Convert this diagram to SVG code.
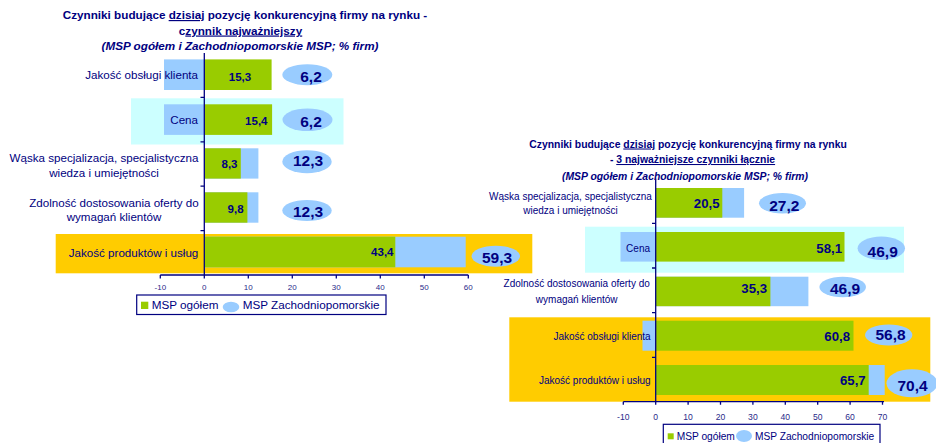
<svg xmlns="http://www.w3.org/2000/svg" width="936" height="443" viewBox="0 0 936 443">
<style>
text{font-family:"Liberation Sans",Arial,sans-serif;fill:#000080}
.t1{font-size:11.7px;font-weight:bold;text-anchor:middle}
.t2{font-size:10.4px;font-weight:bold;text-anchor:middle}
.it{font-style:italic}
.u{text-decoration:underline}
.lab{font-size:11.6px}
.labr{font-size:10px}
.end{text-anchor:end}
.mid{text-anchor:middle}
.val{font-size:11.5px;font-weight:bold}
.valr{font-size:13.2px;font-weight:bold;text-anchor:end}
.big{font-size:15.5px;font-weight:bold;text-anchor:middle}
.tick{font-size:8px;text-anchor:middle;fill:#2a2a8a}
.tickr{font-size:8.6px;text-anchor:middle;fill:#2a2a8a}
.g{fill:#99CC00}
.b{fill:#99CCFF}
.cy{fill:#CCFFFF}
.or{fill:#FFCC00}
.ax{stroke:#000080;stroke-width:1.3;fill:none}
.leg{fill:#fff;stroke:#000080;stroke-width:1.2}
.lt{font-size:11.7px}
.ltr{font-size:10.2px}
</style>

<!-- LEFT CHART -->
<g id="left-title">
<text class="t1" x="245" y="19">Czynniki budujące <tspan class="u">dzisiaj</tspan> pozycję konkurencyjną firmy na rynku -</text>
<text class="t1" x="240.5" y="34.5">c<tspan class="u">zynnik najważniejszy</tspan></text>
<text class="t1 it" x="240" y="49.5">(MSP ogółem i Zachodniopomorskie MSP; % firm)</text>
</g>

<g id="left-bands">
<rect class="cy" x="131" y="98.3" width="212.5" height="46.2"/>
<rect class="or" x="55.7" y="234" width="476.6" height="39.3"/>
</g>

<g id="L-obsluga">
<rect class="b" x="164" y="59.4" width="40.3" height="30.6"/>
<rect class="g" x="204.3" y="59.4" width="67.3" height="30.6"/>
<text class="lab end" x="198" y="78.5">Jakość obsługi klienta</text>
<text class="val mid" x="240" y="80.7">15,3</text>
<ellipse class="b" cx="307.3" cy="74.7" rx="25" ry="10.5"/>
<text class="big" x="311" y="82">6,2</text>
</g>

<g id="L-cena">
<rect class="b" x="164" y="104.3" width="40.3" height="30.6"/>
<rect class="g" x="204.3" y="104.3" width="67.8" height="30.6"/>
<text class="lab end" x="198" y="124">Cena</text>
<text class="val mid" x="256.3" y="124.5">15,4</text>
<ellipse class="b" cx="307.5" cy="119.7" rx="25" ry="11.3"/>
<text class="big" x="311" y="126.5">6,2</text>
</g>

<g id="L-waska">
<rect class="b" x="204.3" y="148.3" width="54.1" height="30.3"/>
<rect class="g" x="204.3" y="148.3" width="36.5" height="30.3"/>
<text class="lab mid" x="104" y="161.8">Wąska specjalizacja, specjalistyczna</text>
<text class="lab mid" x="104" y="176.8">wiedza i umiejętności</text>
<text class="val mid" x="229.5" y="168.3">8,3</text>
<ellipse class="b" cx="307" cy="161.7" rx="24.7" ry="11.5"/>
<text class="big" x="308" y="166.3">12,3</text>
</g>

<g id="L-zdolnosc">
<rect class="b" x="204.3" y="192.3" width="54.1" height="30.4"/>
<rect class="g" x="204.3" y="192.3" width="43.1" height="30.4"/>
<text class="lab mid" x="114" y="206.5">Zdolność dostosowania oferty do</text>
<text class="lab mid" x="114" y="221">wymagań klientów</text>
<text class="val mid" x="235.6" y="213.3">9,8</text>
<ellipse class="b" cx="307" cy="210.5" rx="24.7" ry="10.5"/>
<text class="big" x="308" y="217.3">12,3</text>
</g>

<g id="L-produkty">
<rect class="b" x="204.3" y="236.7" width="261.4" height="30.6"/>
<rect class="g" x="204.3" y="236.7" width="191" height="30.6"/>
<text class="lab end" x="198.3" y="257.3">Jakość produktów i usług</text>
<text class="val end" x="393.5" y="256.3">43,4</text>
<ellipse class="b" cx="495.8" cy="256.2" rx="24.2" ry="10.5"/>
<text class="big" x="497" y="262.7">59,3</text>
</g>

<g id="left-axes">
<path class="ax" d="M204.3 53V275M160.3 275H468.3"/>
<path class="ax" d="M200.5 97.4H204.3M200.5 141.8H204.3M200.5 186.2H204.3M200.5 230.6H204.3"/>
<path class="ax" d="M160.3 275v3.5M204.3 275v3.5M248.3 275v3.5M292.3 275v3.5M336.3 275v3.5M380.3 275v3.5M424.3 275v3.5M468.3 275v3.5"/>
<text class="tick" x="160.3" y="289.5">-10</text>
<text class="tick" x="204.3" y="289.5">0</text>
<text class="tick" x="248.3" y="289.5">10</text>
<text class="tick" x="292.3" y="289.5">20</text>
<text class="tick" x="336.3" y="289.5">30</text>
<text class="tick" x="380.3" y="289.5">40</text>
<text class="tick" x="424.3" y="289.5">50</text>
<text class="tick" x="468.3" y="289.5">60</text>
</g>

<g id="left-legend">
<rect class="leg" x="136.7" y="295" width="249.3" height="19.5"/>
<rect class="g" x="141" y="301.7" width="7.3" height="7.3"/>
<text class="lt" x="151.7" y="309">MSP ogółem</text>
<ellipse class="b" cx="231" cy="307" rx="8.3" ry="5.3"/>
<text class="lt" x="242.7" y="309">MSP Zachodniopomorskie</text>
</g>

<!-- RIGHT CHART -->
<g id="right-title">
<text class="t2" x="688" y="147.5">Czynniki budujące <tspan class="u"> dzisiaj</tspan> pozycję konkurencyjną firmy na rynku</text>
<text class="t2" x="692.5" y="163">- <tspan class="u">3 najważniejsze czynniki łącznie</tspan></text>
<text class="t2 it" x="685" y="180">(MSP ogółem i Zachodniopomorskie MSP; % firm)</text>
</g>

<g id="right-bands">
<rect class="cy" x="585" y="226.7" width="319" height="46"/>
<rect class="or" x="509.3" y="317.3" width="421" height="84.4"/>
</g>

<g id="R-waska">
<rect class="b" x="655.7" y="188" width="88.4" height="29.7"/>
<rect class="g" x="655.7" y="188" width="66.6" height="29.7"/>
<text class="labr mid" x="570.5" y="200">Wąska specjalizacja, specjalistyczna</text>
<text class="labr mid" x="570.5" y="214.3">wiedza i umiejętności</text>
<text class="valr" x="719.5" y="207.7">20,5</text>
<ellipse class="b" cx="782.5" cy="203.3" rx="23.5" ry="10.3"/>
<text class="big" x="784.3" y="210.5">27,2</text>
</g>

<g id="R-cena">
<rect class="b" x="620.5" y="232" width="35.2" height="29.6"/>
<rect class="g" x="655.7" y="232" width="188.8" height="29.6"/>
<text class="labr end" x="650" y="252">Cena</text>
<text class="valr" x="842" y="253">58,1</text>
<ellipse class="b" cx="881.3" cy="248.3" rx="23.7" ry="11.7"/>
<text class="big" x="882.7" y="256.5">46,9</text>
</g>

<g id="R-zdolnosc">
<rect class="b" x="655.7" y="276.7" width="152.7" height="29.5"/>
<rect class="g" x="655.7" y="276.7" width="114.7" height="29.5"/>
<text class="labr mid" x="576.7" y="287.3">Zdolność dostosowania oferty do</text>
<text class="labr mid" x="576.7" y="303">wymagań klientów</text>
<text class="valr" x="767" y="293">35,3</text>
<ellipse class="b" cx="842.7" cy="287" rx="23.3" ry="10.3"/>
<text class="big" x="845" y="294">46,9</text>
</g>

<g id="R-obsluga">
<rect class="b" x="642.5" y="320.7" width="13.2" height="30"/>
<rect class="g" x="655.7" y="320.7" width="197.8" height="30"/>
<text class="labr end" x="650.7" y="340">Jakość obsługi klienta</text>
<text class="valr" x="850" y="341">60,8</text>
<ellipse class="b" cx="888.7" cy="335" rx="23.7" ry="10.5"/>
<text class="big" x="890.5" y="339.5">56,8</text>
</g>

<g id="R-produkty">
<rect class="b" x="655.7" y="365" width="229" height="30"/>
<rect class="g" x="655.7" y="365" width="213" height="30"/>
<text class="labr end" x="650.7" y="384">Jakość produktów i usług</text>
<text class="valr" x="865.7" y="385">65,7</text>
<ellipse class="b" cx="912" cy="383.3" rx="25.5" ry="14"/>
<text class="big" x="912.5" y="390.5">70,4</text>
</g>

<g id="right-axes">
<path class="ax" d="M655.7 178.5V401.7M623.3 401.7H884"/>
<path class="ax" d="M652 223.3H655.7M652 268H655.7M652 312.7H655.7M652 357.3H655.7"/>
<path class="ax" d="M623.3 401.7v3M655.7 401.7v3M688.1 401.7v3M720.5 401.7v3M752.9 401.7v3M785.3 401.7v3M817.7 401.7v3M850.1 401.7v3M882.5 401.7v3"/>
<text class="tickr" x="623.3" y="419.5">-10</text>
<text class="tickr" x="655.7" y="419.5">0</text>
<text class="tickr" x="688.1" y="419.5">10</text>
<text class="tickr" x="720.5" y="419.5">20</text>
<text class="tickr" x="752.9" y="419.5">30</text>
<text class="tickr" x="785.3" y="419.5">40</text>
<text class="tickr" x="817.7" y="419.5">50</text>
<text class="tickr" x="850.1" y="419.5">60</text>
<text class="tickr" x="882.5" y="419.5">70</text>
</g>

<g id="right-legend">
<rect class="leg" x="663.3" y="424.3" width="216.7" height="22"/>
<rect class="g" x="667.7" y="433.3" width="6" height="6"/>
<text class="ltr" x="676.7" y="439.5">MSP ogółem</text>
<ellipse class="b" cx="744" cy="436" rx="8" ry="6"/>
<text class="ltr" x="755" y="439.5">MSP Zachodniopomorskie</text>
</g>

<g id="connectors"></g>
</svg>
